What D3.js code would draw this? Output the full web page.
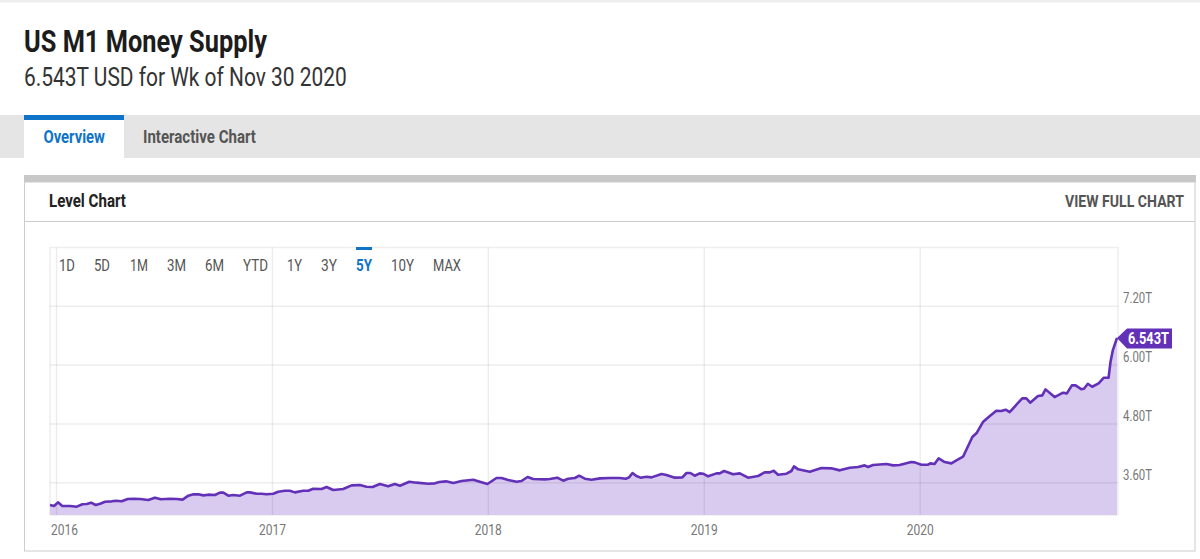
<!DOCTYPE html>
<html>
<head>
<meta charset="utf-8">
<title>US M1 Money Supply</title>
<script src="https://cdn.jsdelivr.net/npm/d3@7"></script>
<style>
  html, body { margin: 0; padding: 0; background: #fff; overflow: hidden; }
  svg { display: block; }
  text { font-family: Roboto, sans-serif; }
</style>
</head>
<body>
<svg id="page" width="1200" height="559"></svg>
<script>
// values: decimal year, level in trillions of USD
const years = [
  2015.972,2015.991,2016.009,2016.029,2016.065,2016.096,2016.122,2016.142,2016.162,2016.184,
  2016.204,2016.227,2016.258,2016.278,2016.304,2016.332,2016.358,2016.389,2016.427,2016.458,
  2016.486,2016.528,2016.559,2016.586,2016.613,2016.636,2016.659,2016.682,2016.705,2016.736,
  2016.759,2016.775,2016.798,2016.821,2016.852,2016.883,2016.898,2016.929,2016.952,2016.975,
  2017.006,2017.029,2017.060,2017.083,2017.106,2017.145,2017.168,2017.191,2017.230,2017.253,
  2017.284,2017.330,2017.369,2017.407,2017.438,2017.466,2017.500,2017.538,2017.569,2017.593,
  2017.636,2017.670,2017.724,2017.755,2017.775,2017.806,2017.840,2017.878,2017.932,2017.963,
  2017.998,2018.040,2018.063,2018.094,2018.133,2018.156,2018.184,2018.210,2018.264,2018.287,
  2018.321,2018.349,2018.372,2018.403,2018.423,2018.449,2018.480,2018.519,2018.565,2018.611,
  2018.639,2018.654,2018.670,2018.688,2018.707,2018.735,2018.758,2018.804,2018.827,2018.866,
  2018.901,2018.920,2018.938,2018.958,2018.981,2018.997,2019.020,2019.059,2019.074,2019.094,
  2019.136,2019.167,2019.205,2019.252,2019.282,2019.306,2019.324,2019.344,2019.383,2019.406,
  2019.418,2019.437,2019.491,2019.545,2019.591,2019.630,2019.676,2019.715,2019.745,2019.761,
  2019.784,2019.846,2019.877,2019.907,2019.961,2019.977,2020.008,2020.039,2020.049,2020.069,
  2020.088,2020.116,2020.147,2020.170,2020.201,2020.244,2020.265,2020.293,2020.321,2020.355,
  2020.378,2020.398,2020.417,2020.475,2020.494,2020.512,2020.548,2020.568,2020.583,2020.625,
  2020.664,2020.682,2020.705,2020.722,2020.748,2020.761,2020.779,2020.799,2020.829,2020.853,
  2020.875,2020.884,2020.895,2020.914
];
const m1Values = [
  3.134,3.114,3.188,3.114,3.114,3.100,3.148,3.154,3.182,3.134,
  3.161,3.202,3.209,3.222,3.209,3.256,3.263,3.256,3.236,3.284,
  3.250,3.263,3.256,3.243,3.324,3.352,3.352,3.331,3.345,3.338,
  3.386,3.386,3.324,3.338,3.324,3.392,3.392,3.365,3.365,3.352,
  3.365,3.406,3.426,3.426,3.392,3.426,3.426,3.467,3.460,3.501,
  3.440,3.460,3.535,3.542,3.508,3.501,3.562,3.515,3.562,3.528,
  3.610,3.590,3.569,3.576,3.603,3.617,3.583,3.624,3.651,3.610,
  3.562,3.685,3.685,3.644,3.610,3.624,3.705,3.664,3.658,3.664,
  3.692,3.630,3.671,3.685,3.732,3.671,3.651,3.678,3.685,3.685,
  3.671,3.698,3.787,3.726,3.692,3.712,3.698,3.766,3.746,3.692,
  3.698,3.787,3.787,3.732,3.780,3.773,3.719,3.780,3.780,3.828,
  3.760,3.780,3.692,3.726,3.800,3.800,3.834,3.753,3.773,3.828,
  3.923,3.862,3.814,3.889,3.882,3.841,3.896,3.909,3.943,3.909,
  3.950,3.970,3.943,3.950,4.011,4.004,3.957,3.957,3.984,3.970,
  4.086,4.011,3.984,4.045,4.120,4.521,4.610,4.827,4.936,5.058,
  5.052,5.079,5.031,5.310,5.310,5.222,5.358,5.371,5.494,5.337,
  5.426,5.412,5.575,5.575,5.500,5.507,5.609,5.548,5.616,5.732,
  5.732,6.058,6.296,6.543
];
const yearTicks = [2016, 2017, 2018, 2019, 2020];
const levelTicks = [3.6, 4.8, 6.0, 7.2];
const rangeLabels = ["1D", "5D", "1M", "3M", "6M", "YTD", "1Y", "3Y", "5Y", "10Y", "MAX"];
const rangeStarts = [59, 94, 130, 167, 205, 243, 287, 321, 356, 391, 433];
const rangeWidths = [16, 16, 18, 19, 19, 25, 15, 16, 16, 23, 28];
const activeRange = "5Y";
const lastLabel = "6.543T";

const BLUE = "#0f74c8", PURPLE = "#6331b8";
const svg = d3.select("#page");

// Roboto Condensed is not installed, so squeeze Roboto into the measured width
function label(x, y, str, size, weight, color, width) {
  const t = svg.append("text").text(str)
    .attr("font-size", size).attr("font-weight", weight).attr("fill", color);
  const sx = width / t.node().getComputedTextLength();
  return t.attr("transform", `translate(${x},${y}) scale(${sx},1)`);
}
function squeezeTicks(sel, width) {
  sel.each(function () {
    const t = d3.select(this);
    const sx = width / this.getComputedTextLength();
    const tx = +t.attr("data-x"), ty = +t.attr("data-y");
    t.attr("x", null).attr("y", null).attr("dy", null).attr("text-anchor", "start")
      .attr("transform", `translate(${tx},${ty}) scale(${sx},1)`);
  });
}
function box(x, y, w, h, fill) {
  return svg.append("rect").attr("x", x).attr("y", y).attr("width", w).attr("height", h).attr("fill", fill);
}

// page header
box(0, 0, 1200, 2.5, "#eeeeee");
label(24, 52, "US M1 Money Supply", 30.5, 700, "#1c1c1c", 243);
label(24, 86, "6.543T USD for Wk of Nov 30 2020", 25, 400, "#333333", 323);

// tabs
box(0, 115, 1200, 43, "#e5e5e5");
box(24, 120, 100, 38, "#ffffff");
box(24, 115, 100, 5, BLUE);
label(43.5, 143, "Overview", 18.5, 700, BLUE, 61.5);
label(143, 143, "Interactive Chart", 18.5, 700, "#555555", 113);

// card
box(24.5, 182, 1170.5, 369, "#ffffff").attr("stroke", "#cccccc");
box(24, 175, 1172, 7, "#c8c8c8");
svg.append("line").attr("x1", 25).attr("x2", 1195).attr("y1", 221.5).attr("y2", 221.5).attr("stroke", "#cccccc");
label(49, 207, "Level Chart", 17.5, 700, "#222222", 77);
label(1065, 207, "VIEW FULL CHART", 17, 700, "#555555", 119);

// scales
const x = d3.scaleLinear().domain([d3.min(years), d3.max(years)]).range([50, 1117]);
const y = d3.scaleLinear().domain([2.93, 8.39]).range([515, 247.5]);
const points = years.map((yr, i) => [yr, m1Values[i]]);

// plot frame
svg.append("rect").attr("x", 50).attr("y", 247.5).attr("width", 1068).attr("height", 267.5)
  .attr("fill", "none").attr("stroke", "#eeeeee").attr("stroke-width", 1.5);

// area goes under the grid, the grid shows through it
svg.append("path").datum(points)
  .attr("fill", "#d9cbf0")
  .attr("d", d3.area().x(d => x(d[0])).y0(y.range()[0]).y1(d => y(d[1])));

const xAxis = svg.append("g").attr("transform", "translate(0,515)")
  .call(d3.axisBottom(x).tickValues(yearTicks).tickFormat(d3.format("d")).tickSize(-267.5));
xAxis.select(".domain").remove();
xAxis.selectAll("line").attr("stroke", "#000").attr("stroke-opacity", 0.07).attr("stroke-width", 1.5);
xAxis.selectAll("text").attr("font-size", 14.5).attr("fill", "#777777")
  .attr("data-x", d => d === 2016 ? -5.5 : -13.5).attr("data-y", 20);
squeezeTicks(xAxis.selectAll("text"), 27);

const yAxis = svg.append("g").attr("transform", "translate(1118,0)")
  .call(d3.axisRight(y).tickValues(levelTicks).tickFormat(d => d3.format(".2f")(d) + "T").tickSize(-1068));
yAxis.select(".domain").remove();
yAxis.selectAll("line").attr("stroke", "#000").attr("stroke-opacity", 0.07).attr("stroke-width", 1.5);
yAxis.selectAll("text").attr("font-size", 14.5).attr("fill", "#777777")
  .attr("data-x", 5).attr("data-y", -3);
squeezeTicks(yAxis.selectAll("text"), 29);

// range buttons
rangeLabels.forEach((r, i) => {
  const on = r === activeRange;
  label(rangeStarts[i], 271, r, 16, on ? 700 : 400, on ? BLUE : "#555555", rangeWidths[i]);
  if (on) box(rangeStarts[i], 247, rangeWidths[i], 3, BLUE);
});

// the series
svg.append("path").datum(points)
  .attr("fill", "none").attr("stroke", PURPLE).attr("stroke-width", 2.6).attr("stroke-linejoin", "round")
  .attr("d", d3.line().x(d => x(d[0])).y(d => y(d[1])));

// last value flag
const tipX = x(years[years.length - 1]), tipY = y(m1Values[m1Values.length - 1]);
svg.append("path").attr("fill", PURPLE)
  .attr("d", d3.line()([[tipX, tipY], [tipX + 10, tipY - 9.5], [tipX + 55, tipY - 9.5], [tipX + 55, tipY + 10.5], [tipX + 10, tipY + 10.5]]) + "Z");
label(tipX + 11, tipY + 6, lastLabel, 16, 700, "#ffffff", 41);
</script>
</body>
</html>
